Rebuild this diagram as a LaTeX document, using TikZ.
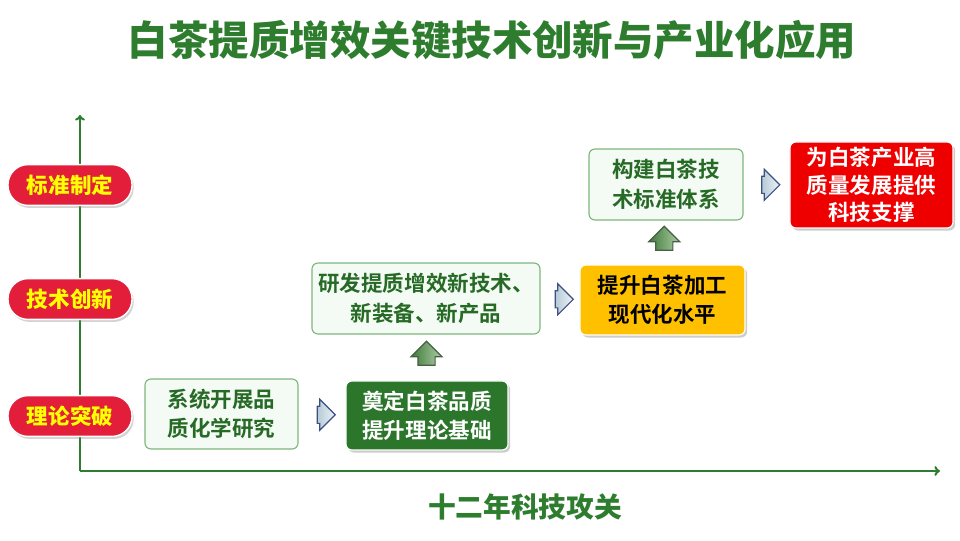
\documentclass[tikz,border=0pt]{standalone}
\usepackage{fontspec}
\setmainfont{Noto Sans CJK SC}[BoldFont={Noto Sans CJK SC Bold}]
\newfontfamily\heavyfont{Noto Sans CJK SC Black}
\usetikzlibrary{shapes.arrows,shadows,calc,arrows.meta}
\definecolor{titlegreen}{RGB}{46,125,46}
\definecolor{pillred}{RGB}{226,30,58}
\definecolor{pilltext}{RGB}{255,255,0}
\definecolor{lightfill}{RGB}{244,251,244}
\definecolor{lightedge}{RGB}{125,182,125}
\definecolor{lighttext}{RGB}{38,106,38}
\definecolor{darkfill}{RGB}{44,118,44}
\definecolor{goldfill}{RGB}{255,192,0}
\definecolor{redfill}{RGB}{238,0,0}
\definecolor{arrowedge}{RGB}{60,80,130}
\definecolor{arrowlight}{RGB}{238,243,246}
\definecolor{arrowgray}{RGB}{182,202,214}
\definecolor{upedge}{RGB}{70,95,70}
\definecolor{uplight}{RGB}{175,205,165}
\definecolor{updark}{RGB}{62,122,58}
\begin{document}
\begin{tikzpicture}[x=0.025cm,y=-0.025cm,
    axis/.style={titlegreen,line width=1.5pt,-{To[length=4pt,width=7pt]}},
    pill/.style={rectangle,rounded corners=0.5cm,fill=pillred,draw=white,line width=1pt,
      minimum width=3.1cm,minimum height=1.02cm,text=pilltext,
      font=\fontsize{15.3}{18}\selectfont\heavyfont,
      drop shadow={shadow xshift=1.2pt,shadow yshift=-1.8pt,opacity=0.35}},
    box/.style={rectangle,rounded corners=0.15cm,align=center,inner sep=2pt,
      font=\fontsize{15.3}{21}\selectfont\bfseries},
    lightbox/.style={box,fill=lightfill,draw=lightedge,line width=0.8pt,text=lighttext},
    shadowbox/.style={box,draw=white,line width=0.8pt,
      drop shadow={shadow xshift=1.5pt,shadow yshift=-1.8pt,opacity=0.4}},
    rarrow/.style={single arrow,draw=arrowedge,line width=0.8pt,
      left color=arrowgray,right color=arrowlight,
      inner xsep=0pt,inner ysep=0.2cm,single arrow head extend=0.175cm,
      minimum height=0.45cm},
    uarrow/.style={single arrow,rotate=90,draw=upedge,line width=0.8pt,
      left color=updark,right color=uplight,
      inner xsep=0pt,inner ysep=0.2cm,single arrow head extend=0.175cm,
      minimum height=0.6cm}]
  \useasboundingbox (0,0) rectangle (960,540);
  \node[text=titlegreen,font=\fontsize{28.8}{32}\selectfont\heavyfont] (title) at (492,40) {白茶提质增效关键技术创新与产业化应用};
  \coordinate (org) at (80,471);
  \coordinate (ytop) at (80,115);
  \coordinate (xend) at (940,471);
  \draw[axis] (org) -- (ytop);
  \draw[axis] (org) -- (xend);
  \node[text=titlegreen,font=\fontsize{19.7}{24}\selectfont\heavyfont] (years) at (525,507) {十二年科技攻关};
  \node[pill] (std) at (70,185) {标准制定};
  \node[pill] (tech) at (70,299) {技术创新};
  \node[pill] (theory) at (70,416) {理论突破};
  \node[lightbox,minimum width=3.825cm,minimum height=1.75cm] (b1) at (221.5,414) {系统开展品\\质化学研究};
  \node[shadowbox,fill=darkfill,text=white,minimum width=4.05cm,minimum height=1.725cm] (b2) at (427,415.5) {奠定白茶品质\\提升理论基础};
  \node[lightbox,minimum width=5.7cm,minimum height=1.775cm] (b3) at (426,298.5) {研发提质增效新技术、\\新装备、新产品};
  \node[shadowbox,fill=goldfill,text=black,minimum width=4.125cm,minimum height=1.75cm] (b4) at (662.5,300) {提升白茶加工\\现代化水平};
  \node[lightbox,minimum width=3.85cm,minimum height=1.775cm] (b5) at (666,184.5) {构建白茶技\\术标准体系};
  \node[shadowbox,fill=redfill,text=white,minimum width=4.075cm,minimum height=2.15cm,
    font=\fontsize{15.3}{19.5}\selectfont\bfseries] (b6) at (871.5,185) {为白茶产业高\\质量发展提供\\科技支撑};
  \node[rarrow] (a12) at ($(b1.east)!0.5!(b2.west)$) {};
  \node[uarrow] (a23) at ($(b2.north)!0.5!(b3.south)$) {};
  \node[rarrow] (a34) at ($(b3.east)!0.5!(b4.west)$) {};
  \node[uarrow] (a45) at ($(b4.north)!0.5!(b5.south)$) {};
  \node[rarrow] (a56) at ($(b5.east)!0.5!(b6.west)$) {};
\end{tikzpicture}
\end{document}
